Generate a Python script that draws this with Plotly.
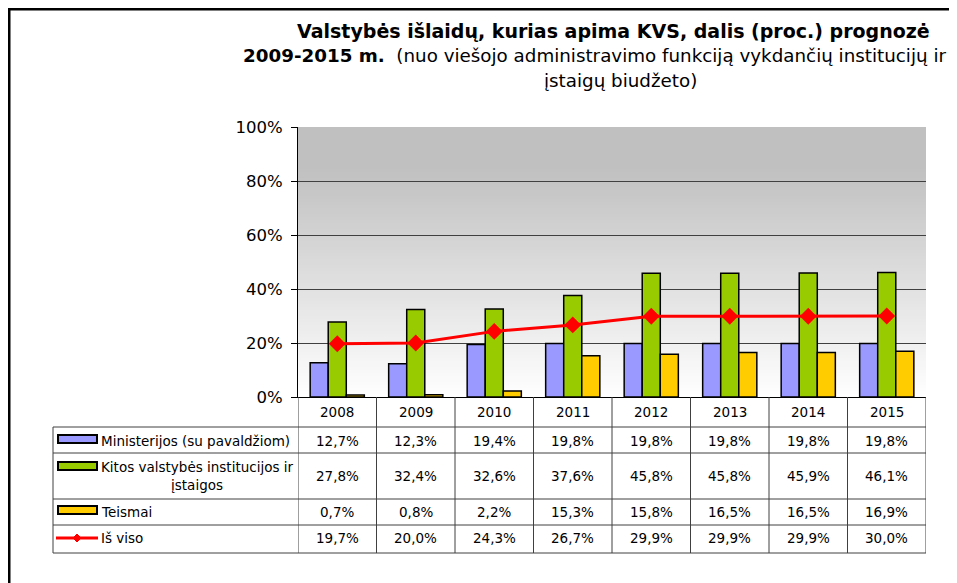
import plotly.graph_objects as go

years = ["2008", "2009", "2010", "2011", "2012", "2013", "2014", "2015"]
ministerijos = [12.7, 12.3, 19.4, 19.8, 19.8, 19.8, 19.8, 19.8]
kitos = [27.8, 32.4, 32.6, 37.6, 45.8, 45.8, 45.9, 46.1]
teismai = [0.7, 0.8, 2.2, 15.3, 15.8, 16.5, 16.5, 16.9]
is_viso = [19.7, 20.0, 24.3, 26.7, 29.9, 29.9, 29.9, 30.0]
y_ticks = [0, 20, 40, 60, 80, 100]

row_names = ["Ministerijos (su pavaldžiom)", "Kitos valstybės institucijos ir<br>įstaigos",
             "Teismai", "Iš viso"]
bar_colors = ["#9999ff", "#99cc00", "#ffcc00"]
line_color = "#ff0000"
font = "DejaVu Sans, Arial, sans-serif"

# page draws the figure 8px in from the corner; positions below are page pixels
OFF = 8
L, R, T, B = 298 - OFF, 926 - OFF, 127 - OFF, 397 - OFF


def px(x):
    return (x - OFF - L) / (R - L)


def py(y):
    return (B - (y - OFF)) / (B - T)


fig = go.Figure()
for name, vals, col in zip(row_names[:3], [ministerijos, kitos, teismai], bar_colors):
    fig.add_bar(x=years, y=vals, name=name, marker=dict(color=col, line=dict(color="black", width=1.5)))

fig.add_scatter(x=years, y=is_viso, name="Iš viso", mode="lines+markers",
                line=dict(color=line_color, width=3),
                marker=dict(symbol="diamond", size=13, color=line_color))

shapes = []
# gray gradient background of the plot area
n = 90
for i in range(n):
    t = (i + 0.5) / n
    c = int(round(255 - 63 * min(1.0, t / 0.85)))
    shapes.append(dict(type="rect", xref="paper", yref="y", x0=0, x1=1,
                       y0=100 * i / n, y1=100 * (i + 1) / n, layer="below",
                       line=dict(width=0), fillcolor=f"rgb({c},{c},{c})"))

# table grid
row_edges = [397, 427, 453, 499, 525, 553]
grid = dict(color="#404040", width=1)
for ye in row_edges[1:]:
    shapes.append(dict(type="line", xref="paper", yref="paper", x0=px(53), x1=1,
                       y0=py(ye), y1=py(ye), line=grid))
shapes.append(dict(type="line", xref="paper", yref="paper", x0=px(53), x1=px(53),
                   y0=py(427), y1=py(553), line=grid))
for i in range(len(years) + 1):
    shapes.append(dict(type="line", xref="x", yref="paper", x0=i - 0.5, x1=i - 0.5,
                       y0=0, y1=py(553), line=grid))

# legend keys in the table
for col, (y0, y1) in zip(bar_colors, [(435, 443), (462, 470), (506, 514)]):
    shapes.append(dict(type="rect", xref="paper", yref="paper", x0=px(58), x1=px(97),
                       y0=py(y1), y1=py(y0), fillcolor=col, line=dict(color="black", width=2)))
shapes.append(dict(type="line", xref="paper", yref="paper", x0=px(56), x1=px(98),
                   y0=py(538), y1=py(538), line=dict(color=line_color, width=3)))
cx, cy = px(77), py(538)
dx, dy = 4 / (R - L), 4 / (B - T)
shapes.append(dict(type="path", xref="paper", yref="paper",
                   path=f"M {cx - dx} {cy} L {cx} {cy + dy} L {cx + dx} {cy} L {cx} {cy - dy} Z",
                   fillcolor=line_color, line=dict(color=line_color, width=1)))

# frame (top and left)
shapes.append(dict(type="line", xref="paper", yref="paper", x0=px(7), x1=px(970),
                   y0=py(9), y1=py(9), line=dict(color="black", width=3)))
shapes.append(dict(type="line", xref="paper", yref="paper", x0=px(9), x1=px(9),
                   y0=py(8), y1=py(600), line=dict(color="black", width=3)))

ann = []
tf = dict(family=font, size=13.5, color="black")
mid = dict(showarrow=False, yanchor="middle")
for i, yr in enumerate(years):
    ann.append(dict(x=i, y=py(412), xref="x", yref="paper", text=yr, font=tf, **mid))
row_centers = [441, 476, 512, 538]
for vals, yc in zip([ministerijos, kitos, teismai, is_viso], row_centers):
    for i, v in enumerate(vals):
        ann.append(dict(x=i, y=py(yc), xref="x", yref="paper",
                        text=f"{v:.1f}%".replace(".", ","), font=tf, **mid))

ann.append(dict(x=px(99), y=py(441), xref="paper", yref="paper", text=row_names[0],
                xanchor="left", font=tf, **mid))
ann.append(dict(x=px(197), y=py(476), xref="paper", yref="paper", text=row_names[1],
                xanchor="center", align="center", font=tf, **mid))
ann.append(dict(x=px(99), y=py(512), xref="paper", yref="paper", text=row_names[2],
                xanchor="left", font=tf, **mid))
ann.append(dict(x=px(99), y=py(538), xref="paper", yref="paper", text=row_names[3],
                xanchor="left", font=tf, **mid))

# title
ann.append(dict(x=px(613), y=py(31), xref="paper", yref="paper", xanchor="center",
                font=dict(family=font, size=19, color="black"), **mid,
                text="<b>Valstybės išlaidų, kurias apima KVS, dalis (proc.) prognozė</b>"))
ann.append(dict(x=px(594), y=py(56), xref="paper", yref="paper", xanchor="center",
                font=dict(family=font, size=18.3, color="black"), **mid,
                text="<b>2009-2015 m.</b>  (nuo viešojo administravimo funkciją vykdančių institucijų ir"))
ann.append(dict(x=px(620), y=py(80), xref="paper", yref="paper", xanchor="center",
                font=dict(family=font, size=18.3, color="black"), **mid,
                text="įstaigų biudžeto)"))

fig.update_layout(
    width=957, height=583,
    margin=dict(l=L, r=957 - R, t=T, b=583 - B),
    paper_bgcolor="white", plot_bgcolor="white",
    showlegend=False, barmode="group", bargap=0.31, bargroupgap=0,
    font=dict(family=font, color="black"),
    shapes=shapes, annotations=ann,
)
fig.update_xaxes(type="category", range=[-0.5, 7.5], showticklabels=False, showgrid=False,
                 showline=True, linecolor="black", linewidth=1, ticks="")
fig.update_yaxes(range=[0, 100], tickvals=y_ticks, ticktext=[f"{v}%" for v in y_ticks],
                 showgrid=True, gridcolor="#404040", gridwidth=1, zeroline=False,
                 showline=True, linecolor="black", linewidth=1, ticks="outside", ticklen=6,
                 tickcolor="black", ticklabelstandoff=5,
                 tickfont=dict(family=font, size=16.5, color="black"))

fig.write_html("out.html")
